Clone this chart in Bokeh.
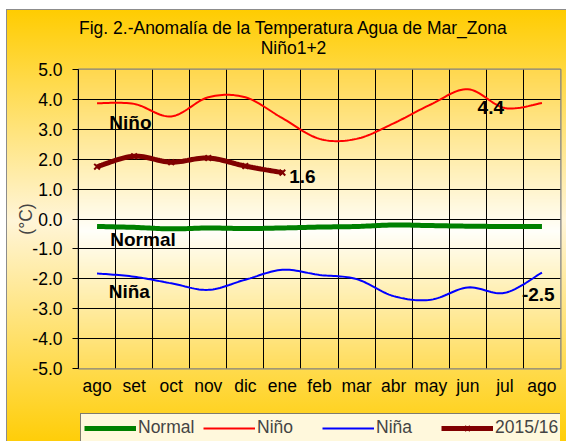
import numpy as np
from bokeh.plotting import figure
from bokeh.layouts import column
from bokeh.models import (FixedTicker, CustomJSTickFormatter, NumeralTickFormatter,
                          Legend, LegendItem, Range1d)
from bokeh.core.properties import value
from bokeh.embed import file_html
from bokeh.resources import INLINE

# ---- data ----
months = ["ago", "set", "oct", "nov", "dic", "ene", "feb", "mar", "abr", "may", "jun", "jul", "ago"]
normal = [-0.25, -0.28, -0.33, -0.30, -0.32, -0.30, -0.27, -0.25, -0.20, -0.22, -0.24, -0.25, -0.25]
nino = [3.87, 3.85, 3.43, 4.07, 4.07, 3.37, 2.68, 2.68, 3.20, 3.83, 4.34, 3.71, 3.88]
nina = [-1.82, -1.93, -2.15, -2.37, -2.03, -1.70, -1.87, -2.01, -2.58, -2.70, -2.29, -2.47, -1.79]
y2015 = [1.75, 2.10, 1.90, 2.04, 1.77, 1.55]
y_ticks = [-5, -4, -3, -2, -1, 0, 1, 2, 3, 4, 5]

series_names = ["Normal", "Niño", "Niña", "2015/16"]
series_labels = ["Niño", "Normal", "Niña"]
value_labels = ["4.4", "1.6", "-2.5"]
title_lines = ["Fig. 2.-Anomalía de la Temperatura Agua de Mar_Zona", "Niño1+2"]

FONT = "Liberation Sans"
FS = "17.5px"

xs = [i + 0.5 for i in range(len(months))]


def smooth(x, y, n=16):
    """Catmull-Rom smoothing of a line (like Excel's smoothed line)."""
    px = [x[0]] + list(x) + [x[-1]]
    py = [y[0]] + list(y) + [y[-1]]
    ox, oy = [], []
    for i in range(1, len(px) - 2):
        for k in range(n):
            t = k / n
            t2, t3 = t * t, t * t * t

            def cr(p0, p1, p2, p3):
                return 0.5 * ((2 * p1) + (-p0 + p2) * t + (2 * p0 - 5 * p1 + 4 * p2 - p3) * t2
                              + (-p0 + 3 * p1 - 3 * p2 + p3) * t3)
            ox.append(cr(px[i - 1], px[i], px[i + 1], px[i + 2]))
            oy.append(cr(py[i - 1], py[i], py[i + 1], py[i + 2]))
    ox.append(x[-1])
    oy.append(y[-1])
    return ox, oy


series_xy = {
    "Normal": smooth(xs, normal),
    "Niño": smooth(xs, nino),
    "Niña": smooth(xs, nina),
    "2015/16": smooth(xs[:len(y2015)], y2015),
}


def strip(height, xr, yr):
    f = figure(width=566, height=height, output_backend="svg", toolbar_location=None,
               x_range=xr, y_range=yr, x_axis_type=None, y_axis_type=None,
               min_border_left=0, min_border_right=0, min_border_top=0, min_border_bottom=0)
    f.border_fill_alpha = 0
    f.background_fill_alpha = 0
    f.outline_line_color = None
    f.grid.visible = False
    return f


# ---- title strip (frame aligned with the chart frame: x in page pixels 78..560) ----
head = strip(59, Range1d(78, 560), Range1d(59, 0))
head.text(x=[293, 293], y=[27, 47], text=title_lines,
          text_font=value(FONT), text_font_size=FS, text_font_style="normal",
          text_align="center", text_baseline="middle", text_color="black")

# ---- main chart ----
p = figure(width=566, height=346, output_backend="svg", toolbar_location=None,
           x_range=Range1d(0, 13), y_range=Range1d(-5, 5),
           min_border_left=78, min_border_right=6, min_border_top=10, min_border_bottom=37)
p.border_fill_alpha = 0
p.background_fill_alpha = 0
p.outline_line_color = "#808080"
p.outline_line_width = 2

# plot-area gradient background
N = 200
ys_bg = np.linspace(-5, 5, N)
stops_y = [-5, -0.4, 5]
g = np.interp(ys_bg, stops_y, [221, 255, 216])
b = np.interp(ys_bg, stops_y, [92, 250, 78])
img = np.empty((N, 1), dtype=np.uint32)
view = img.view(dtype=np.uint8).reshape((N, 1, 4))
view[:, 0, 0] = 255
view[:, 0, 1] = g.astype(np.uint8)
view[:, 0, 2] = b.astype(np.uint8)
view[:, 0, 3] = 255
p.image_rgba(image=[img], x=0, y=-5, dw=13, dh=10, level="image")

# axes
p.yaxis.ticker = FixedTicker(ticks=y_ticks)
p.yaxis.formatter = NumeralTickFormatter(format="0.0")
p.yaxis.axis_label = "(°C)"
p.yaxis.axis_label_text_font = FONT
p.yaxis.axis_label_text_font_size = FS
p.yaxis.axis_label_text_font_style = "normal"
p.yaxis.axis_label_standoff = -7
p.yaxis.major_label_text_font = FONT
p.yaxis.major_label_text_font_size = FS
p.yaxis.major_label_text_color = "black"
p.yaxis.major_label_standoff = 10
p.yaxis.major_tick_out = 6
p.yaxis.major_tick_in = 0
p.yaxis.minor_tick_line_color = None
p.yaxis.axis_line_color = "black"
p.yaxis.major_tick_line_color = "black"

p.xaxis.ticker = FixedTicker(ticks=xs)
p.xaxis.formatter = CustomJSTickFormatter(args=dict(labels=months),
                                          code="return labels[Math.floor(tick)];")
p.xaxis.major_label_text_font = FONT
p.xaxis.major_label_text_font_size = FS
p.xaxis.major_label_text_color = "black"
p.xaxis.major_label_standoff = 1
p.xaxis.major_tick_line_color = None
p.xaxis.minor_tick_line_color = None
p.xaxis.axis_line_color = None

p.xgrid.ticker = FixedTicker(ticks=list(range(len(months) + 1)))
p.ygrid.ticker = FixedTicker(ticks=y_ticks)
for gr in (p.xgrid, p.ygrid):
    gr.grid_line_color = "black"
    gr.grid_line_width = 1
    gr.grid_line_alpha = 1

# series styles
styles = {
    "Normal": dict(line_color="#008000", line_width=5),
    "Niño": dict(line_color="#FF0000", line_width=2),
    "Niña": dict(line_color="#0000FF", line_width=2),
    "2015/16": dict(line_color="#800000", line_width=5),
}
marker_style = dict(marker="x", size=8, line_color="#800000", line_width=2)

for name in series_names:
    sx, sy = series_xy[name]
    p.line(sx, sy, **styles[name])
p.scatter(xs[:len(y2015)], y2015, **marker_style)

# text labels on the chart
p.text(x=[1.4, 1.74, 1.37], y=[3.23, -0.7, -2.43], text=series_labels,
       text_font=value(FONT), text_font_style="bold", text_font_size="19px",
       text_align="center", text_baseline="middle", text_color="black")
p.text(x=[11.12, 6.04, 12.4], y=[3.72, 1.43, -2.51], text=value_labels,
       text_font=value(FONT), text_font_style="bold", text_font_size="19px",
       text_align="center", text_baseline="middle", text_color="black")

# ---- legend strip ----
# same series drawn again, but outside this strip's visible ranges, so only the legend shows
lg = strip(36, Range1d(100, 101), Range1d(100, 101))
items = []
for name in series_names:
    sx, sy = series_xy[name]
    rs = [lg.line(sx, sy, **styles[name])]
    if name == "2015/16":
        rs.append(lg.scatter(xs[:len(y2015)], y2015, **marker_style))
    items.append(LegendItem(label=name, renderers=rs))

legend = Legend(items=items, orientation="horizontal", location=(2, -1),
                label_text_font=FONT, label_text_font_size=FS,
                glyph_width=52, glyph_height=18, label_height=18, label_standoff=2,
                spacing=5, label_width=60, padding=3, margin=0,
                border_line_color="black", border_line_width=1,
                background_fill_color="#FFF8DC", background_fill_alpha=1)
lg.add_layout(legend, "center")

layout = column(head, p, lg, spacing=0,
                styles={"background":
                        "linear-gradient(#8c8c8c, #8c8c8c) 6px 9px / 1px 100% no-repeat, "
                        "linear-gradient(#8c8c8c, #8c8c8c) 6px 9px / 100% 1px no-repeat, "
                        "linear-gradient(to bottom, #FFCC00 0%, #FFF5D8 48%, #FFCC00 100%) "
                        "6px 9px / 100% 100% no-repeat, #FFFFFF"})

open("out.html", "w").write(file_html(layout, INLINE))
